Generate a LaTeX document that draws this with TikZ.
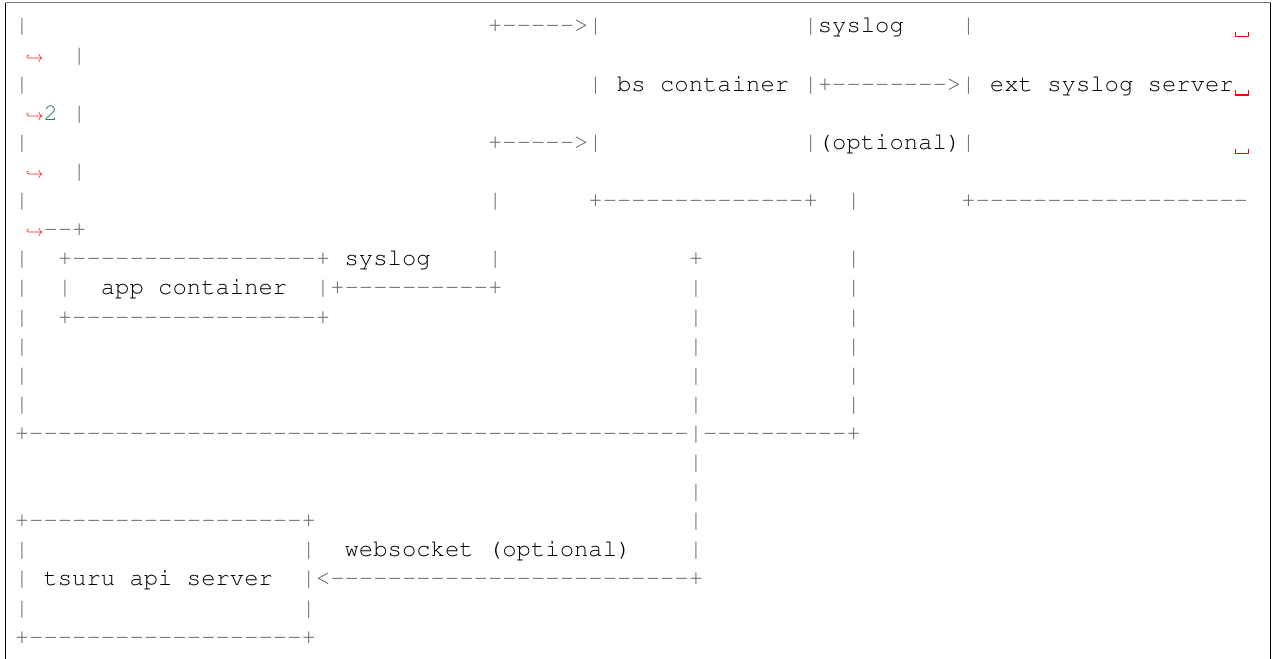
\documentclass[tikz,border=0pt]{standalone}
\usepackage[T1]{fontenc}
\definecolor{opc}{HTML}{666666}
\definecolor{numc}{HTML}{208050}
\newcommand\monof{\fontsize{17.925}{22}\fontfamily{pcr}\selectfont}
\newcommand\dsh[1]{\foreach\k in {1,...,#1}{-}}
\newcommand\tok[5]{\node[#4] (#1) at ({14.83+#2*14.34},{33.0+(#3-1)*29.1}) {#5};}
\newcommand\hookmark[2]{\node[hookk] (#1) at ({14.83+2*14.34},{33.0+(#2-1)*29.1}) {$\hookrightarrow$};}
\newcommand\vsp[2]{\coordinate (#1) at ({14.83+85*14.34},{33.0+(#2-1)*29.1});
  \draw[red,line width=0.9] (#1) ++(2.0,-0.7) -- ++(0,4.6) -- ++(12.5,0) -- ++(0,-4.6);}
\tikzset{
  basek/.style={anchor=base west,inner sep=0pt,outer sep=0pt,font=\monof},
  opk/.style={basek,text=opc},
  txk/.style={basek,text=black},
  numk/.style={basek,text=numc},
  hookk/.style={anchor=base east,inner sep=0pt,outer sep=0pt,text=red,font=\fontsize{12.5}{12.5}\selectfont}
}
\begin{document}
\begin{tikzpicture}[x=0.75pt,y=-0.75pt]
\useasboundingbox (0,0) rectangle (1273,659);
\fill[white] (0,0) rectangle (1273,659);
\draw[black!55,line width=1.2] (5.5,2.7) -- (1270.5,2.7);
\draw[black,line width=0.9] (5.5,2.7) -- (5.5,659);
\draw[black,line width=0.9] (1270.5,2.7) -- (1270.5,659);
% row 1
\tok{a1}{0}{1}{opk}{|}
\tok{b1}{33}{1}{opk}{+\dsh{5}>|}
\tok{c1}{55}{1}{opk}{|}
\tok{d1}{56}{1}{txk}{syslog}
\tok{e1}{66}{1}{opk}{|}
\vsp{v1}{1}
% row 2
\hookmark{h2}{2}
\tok{a2}{4}{2}{opk}{|}
% row 3
\tok{a3}{0}{3}{opk}{|}
\tok{b3}{40}{3}{opk}{|}
\tok{c3}{42}{3}{txk}{bs container}
\tok{d3}{55}{3}{opk}{|+\dsh{8}>|}
\tok{e3}{68}{3}{txk}{ext syslog server}
\vsp{v3}{3}
% row 4
\hookmark{h4}{4}
\tok{n4}{2}{4}{numk}{2}
\tok{a4}{4}{4}{opk}{|}
% row 5
\tok{a5}{0}{5}{opk}{|}
\tok{b5}{33}{5}{opk}{+\dsh{5}>|}
\tok{c5}{55}{5}{opk}{|}
\tok{d5}{56}{5}{txk}{(optional)}
\tok{e5}{66}{5}{opk}{|}
\vsp{v5}{5}
% row 6
\hookmark{h6}{6}
\tok{a6}{4}{6}{opk}{|}
% row 7
\tok{a7}{0}{7}{opk}{|}
\tok{b7}{33}{7}{opk}{|}
\tok{c7}{40}{7}{opk}{+\dsh{14}+}
\tok{d7}{58}{7}{opk}{|}
\tok{e7}{66}{7}{opk}{+\dsh{19}}
% row 8
\hookmark{h8}{8}
\tok{a8}{2}{8}{opk}{\dsh{2}+}
% row 9
\tok{a9}{0}{9}{opk}{|}
\tok{b9}{3}{9}{opk}{+\dsh{17}+}
\tok{c9}{23}{9}{txk}{syslog}
\tok{d9}{33}{9}{opk}{|}
\tok{e9}{47}{9}{opk}{+}
\tok{f9}{58}{9}{opk}{|}
% row 10
\tok{a10}{0}{10}{opk}{|}
\tok{b10}{3}{10}{opk}{|}
\tok{c10}{6}{10}{txk}{app container}
\tok{d10}{21}{10}{opk}{|+\dsh{10}+}
\tok{e10}{47}{10}{opk}{|}
\tok{f10}{58}{10}{opk}{|}
% row 11
\tok{a11}{0}{11}{opk}{|}
\tok{b11}{3}{11}{opk}{+\dsh{17}+}
\tok{e11}{47}{11}{opk}{|}
\tok{f11}{58}{11}{opk}{|}
% rows 12-14
\tok{a12}{0}{12}{opk}{|}
\tok{e12}{47}{12}{opk}{|}
\tok{f12}{58}{12}{opk}{|}
\tok{a13}{0}{13}{opk}{|}
\tok{e13}{47}{13}{opk}{|}
\tok{f13}{58}{13}{opk}{|}
\tok{a14}{0}{14}{opk}{|}
\tok{e14}{47}{14}{opk}{|}
\tok{f14}{58}{14}{opk}{|}
% row 15
\tok{a15}{0}{15}{opk}{+\dsh{46}|\dsh{10}+}
% rows 16-17
\tok{e16}{47}{16}{opk}{|}
\tok{e17}{47}{17}{opk}{|}
% row 18
\tok{a18}{0}{18}{opk}{+\dsh{19}+}
\tok{e18}{47}{18}{opk}{|}
% row 19
\tok{a19}{0}{19}{opk}{|}
\tok{b19}{20}{19}{opk}{|}
\tok{c19}{23}{19}{txk}{websocket (optional)}
\tok{e19}{47}{19}{opk}{|}
% row 20
\tok{a20}{0}{20}{opk}{|}
\tok{c20}{2}{20}{txk}{tsuru api server}
\tok{b20}{20}{20}{opk}{|<\dsh{25}+}
% row 21
\tok{a21}{0}{21}{opk}{|}
\tok{b21}{20}{21}{opk}{|}
% row 22
\tok{a22}{0}{22}{opk}{+\dsh{19}+}
\end{tikzpicture}
\end{document}
